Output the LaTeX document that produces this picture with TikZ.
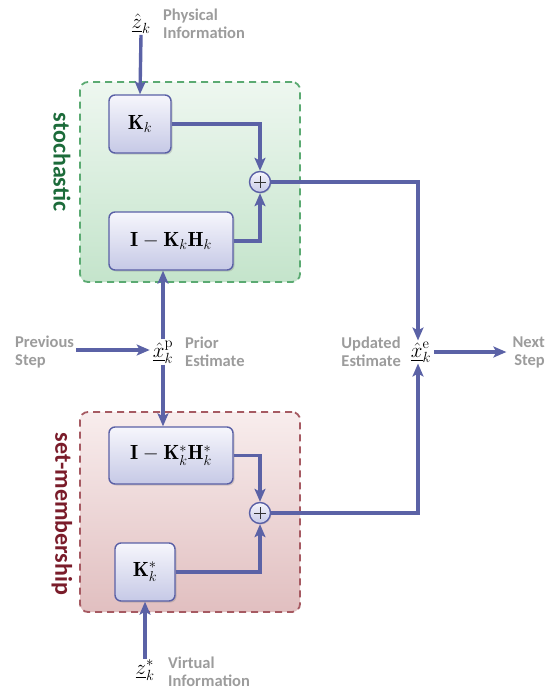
\documentclass[tikz,border=0pt]{standalone}
\usepackage{fix-cm}
\usepackage{fontspec}
\usepackage{amsmath}
\newfontfamily\labelfont{Carlito}
\usetikzlibrary{arrows.meta,shadows,calc}
\definecolor{flow}{HTML}{5B62A6}
\definecolor{blkline}{HTML}{5A60A6}
\definecolor{blktop}{HTML}{F6F6FC}
\definecolor{blkbot}{HTML}{C6C9E6}
\definecolor{stochline}{HTML}{5BAA72}
\definecolor{stochtop}{HTML}{EEF7F0}
\definecolor{stochbot}{HTML}{C4E4CB}
\definecolor{stochtext}{HTML}{1C6B3A}
\definecolor{setline}{HTML}{A65A62}
\definecolor{settop}{HTML}{F8EDED}
\definecolor{setbot}{HTML}{E1BFC0}
\definecolor{settext}{HTML}{7A1C2A}
\definecolor{note}{HTML}{9C9C9C}
\tikzset{
  region/.style={draw, dashed, dash pattern=on 7pt off 5pt, line width=1.8pt,
    rounded corners=8pt, inner sep=0pt},
  stochregion/.style={region, draw=stochline, top color=stochtop, bottom color=stochbot},
  setregion/.style={region, draw=setline, top color=settop, bottom color=setbot},
  blk/.style={draw=blkline, line width=1.4pt, rounded corners=6pt,
    top color=blktop, bottom color=blkbot, inner sep=0pt,
    drop shadow={shadow xshift=1.5pt, shadow yshift=-1.5pt, opacity=0.3},
    font=\fontsize{20.5}{23}\selectfont},
  sumnode/.style={circle, draw=blkline, line width=1.4pt, minimum size=21pt,
    inner sep=0pt, top color=blktop, bottom color=blkbot,
    drop shadow={shadow xshift=1pt, shadow yshift=-1pt, opacity=0.3}},
  flowline/.style={draw=flow, line width=3.4pt,
    -{Stealth[length=13pt,width=11pt,inset=3pt]}},
  mathlbl/.style={inner sep=1pt, font=\fontsize{21}{24}\selectfont},
  note/.style={text=note, inner sep=0pt, align=left,
    font=\labelfont\bfseries\fontsize{16.5}{18}\selectfont},
  tag/.style={inner sep=0pt, rotate=-90, font=\labelfont\bfseries\fontsize{24}{26}\selectfont}
}
\begin{document}
\begin{tikzpicture}[x=1pt,y=-1pt]
\useasboundingbox (0,0) rectangle (551,693);

% background regions
\node[stochregion, minimum width=220pt, minimum height=200pt] (stoch) at (190,182) {};
\node[setregion, minimum width=220pt, minimum height=200pt] (setm) at (190,512) {};
\node[tag, text=stochtext] (stochlbl) at (62,162) {stochastic};
\node[tag, text=settext] (setlbl) at (62,514) {set-membership};

% stochastic branch
\node[blk, minimum width=62pt, minimum height=58pt] (K) at (140,124) {$\mathbf{K}_k$};
\node[blk, minimum width=124pt, minimum height=58pt] (IKH) at (171,241)
  {$\mathbf{I}-\mathbf{K}_k\mathbf{H}_k$};
\node[sumnode] (s1) at (260,182) {};
\draw[line width=0.8pt, black!80] ($(s1)+(-6,0)$) -- ($(s1)+(6,0)$)
  ($(s1)+(0,-6)$) -- ($(s1)+(0,6)$);

% set-membership branch
\node[blk, minimum width=124pt, minimum height=57pt] (IKHs) at (171,455.5)
  {$\mathbf{I}-\mathbf{K}_k^{*}\mathbf{H}_k^{*}$};
\node[blk, minimum width=60pt, minimum height=58pt] (Ks) at (145,572) {$\mathbf{K}_k^{*}$};
\node[sumnode] (s2) at (260,513) {};
\draw[line width=0.8pt, black!80] ($(s2)+(-6,0)$) -- ($(s2)+(6,0)$)
  ($(s2)+(0,-6)$) -- ($(s2)+(0,6)$);

% measurements
\node[mathlbl] (zh) at (141,24) {$\underline{\hat{z}}_k$};
\node[note, anchor=west] (phys) at (163,24) {Physical\\Information};
\node[mathlbl] (zs) at (145,670) {$\underline{z}_k^{*}$};
\node[note, anchor=west] (virt) at (168,672) {Virtual\\Information};

% estimates
\node[mathlbl] (xp) at (163,352) {$\underline{\hat{x}}_k^{\mathrm{p}}$};
\node[note, anchor=west] (priorlbl) at (185,352) {Prior\\Estimate};
\node[note, anchor=west] (prev) at (15,352) {Previous\\Step};
\node[mathlbl] (xe) at (421,352) {$\underline{\hat{x}}_k^{\mathrm{e}}$};
\node[note, anchor=east, align=left] (upd) at (401,352) {Updated\\Estimate};
\node[note, anchor=east, align=right] (next) at (545,352) {Next\\Step};

% connectors
\draw[flowline] (zh.south) -- (K.north);
\draw[flowline] (K.east) -| (s1.north);
\draw[flowline] (IKH.east) -| (s1.south);
\draw[flowline] (s1.east) -| ($(xe.north)+(-3,0)$);
\draw[flowline] (xp.north) -- (xp.north |- IKH.south);
\draw[flowline] (xp.south) -- (xp.south |- IKHs.north);
\draw[flowline] (IKHs.east) -| (s2.north);
\draw[flowline] (Ks.east) -| (s2.south);
\draw[flowline] (s2.east) -| ($(xe.south)+(-3,0)$);
\draw[flowline] (zs.north) -- (Ks.south);
\draw[flowline] ($(prev.east)+(2,-2)$) -- ($(xp.west)+(-2,-2)$);
\draw[flowline] ($(xe.east)+(2,0)$) -- ($(next.west)+(-6,0)$);
\end{tikzpicture}
\end{document}
